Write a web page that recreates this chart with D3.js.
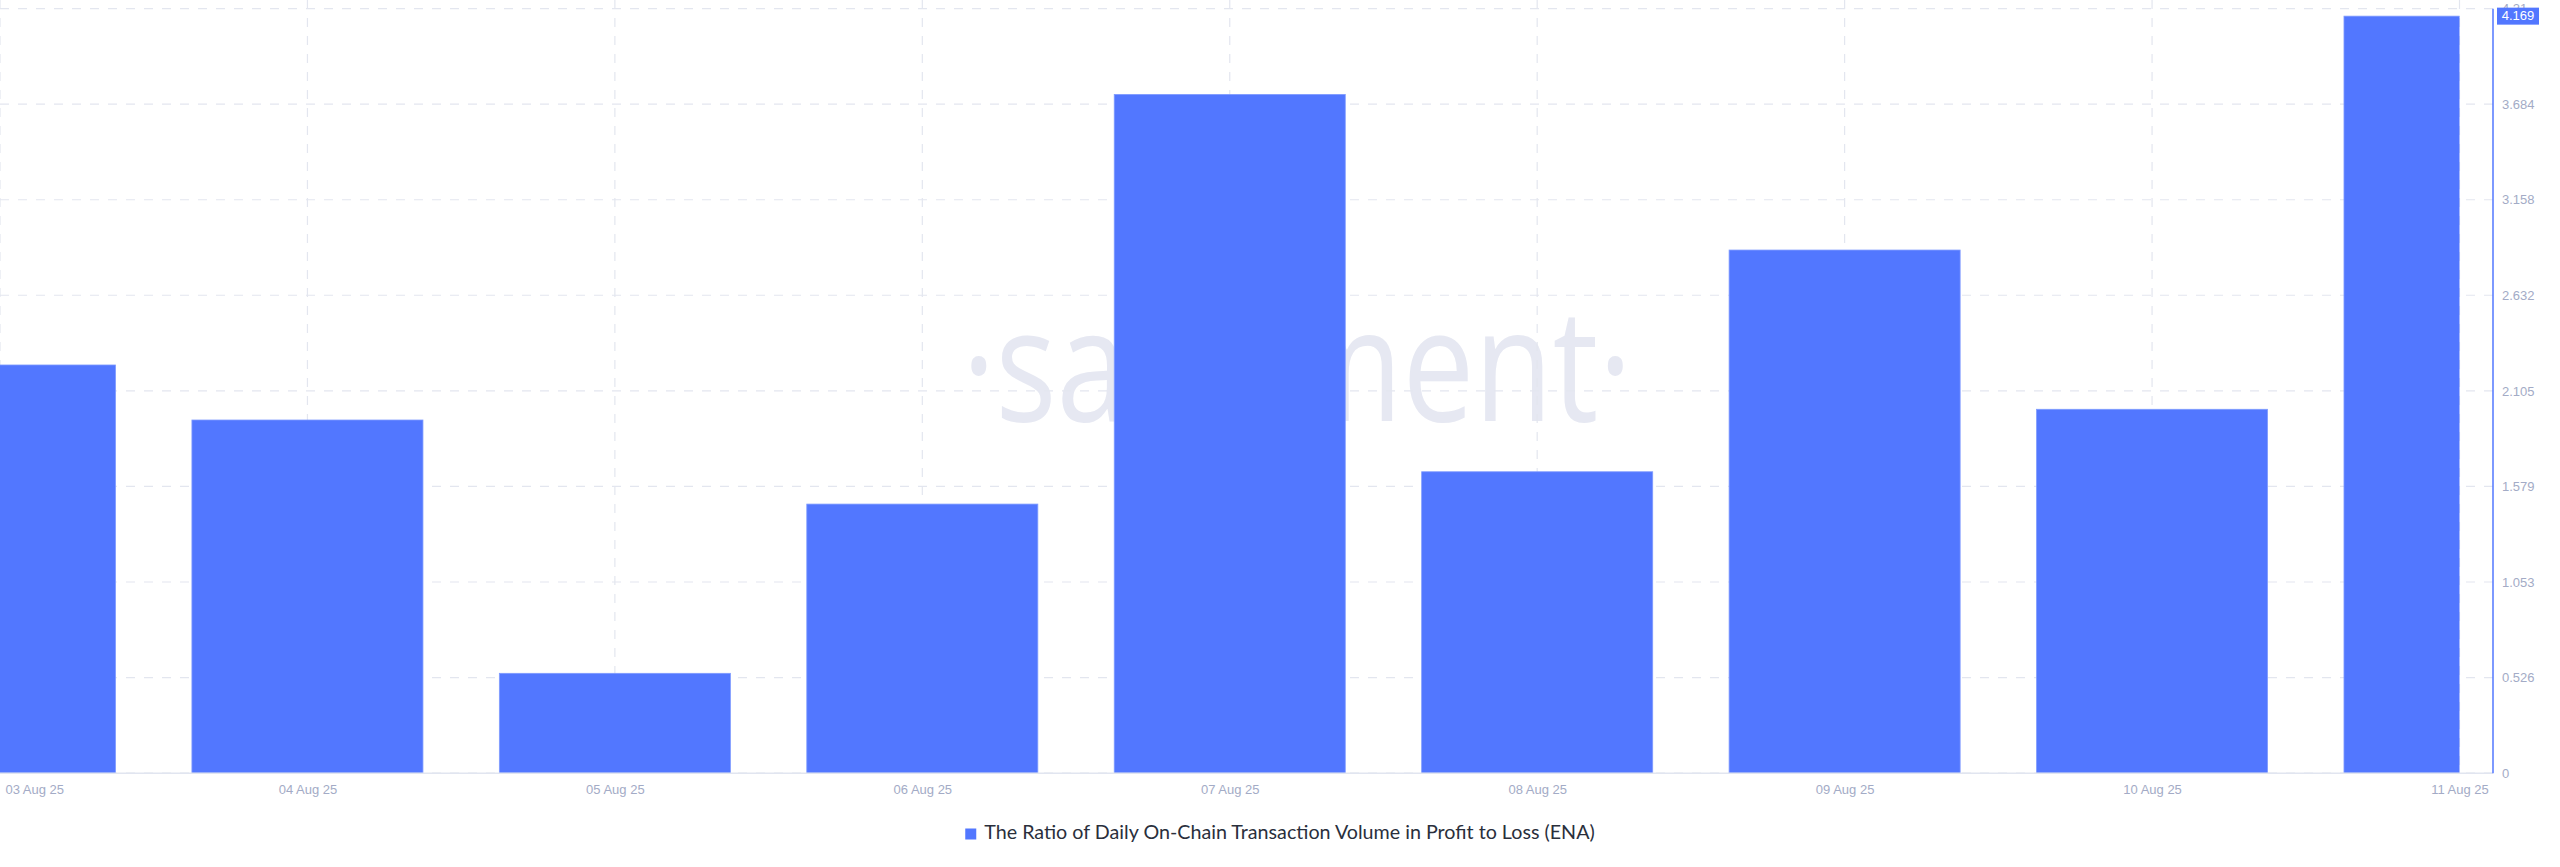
<!DOCTYPE html>
<html>
<head>
<meta charset="utf-8">
<script src="https://cdn.jsdelivr.net/npm/d3@7"></script>
<style>
  html, body { margin: 0; padding: 0; background: #ffffff; }
  svg { display: block; }
</style>
</head>
<body>
<svg id="chart" width="2560" height="867"></svg>
<script>
// ---- data ----
const dates = ["03 Aug 25", "04 Aug 25", "05 Aug 25", "06 Aug 25", "07 Aug 25", "08 Aug 25", "09 Aug 25", "10 Aug 25", "11 Aug 25"];
const ratios = [2.248, 1.945, 0.550, 1.482, 3.738, 1.660, 2.881, 2.004, 4.169];
const yTickValues = [0, 0.526, 1.053, 1.579, 2.105, 2.632, 3.158, 3.684, 4.21];
const yTickLabels = ["0", "0.526", "1.053", "1.579", "2.105", "2.632", "3.158", "3.684", "4.21"];
const seriesName = "The Ratio of Daily On-Chain Transaction Volume in Profit to Loss (ENA)";
const lastValueLabel = "4.169";

// ---- layout ----
const W = 2560, H = 867;
const plotLeft = 0, lastX = 2459.5, axisX = 2493;
const yBottom = 773.2, yTop = 8.7;
const barColor = "#5277ff";
const gridColor = "#e3e6ef";
const labelColor = "#a3abc6";

const svg = d3.select("#chart");

const x = d3.scalePoint().domain(dates).range([plotLeft, lastX]).padding(0);
const y = d3.scaleLinear().domain([0, 4.21]).range([yBottom, yTop]);
const step = x.step();
const barW = step * 0.7515;

// watermark
svg.append("text")
  .attr("x", 1297).attr("y", 421)
  .attr("text-anchor", "middle")
  .attr("font-family", "'Open Sans', sans-serif")
  .attr("font-weight", 400)
  .attr("font-size", 158)
  .attr("fill", "#e6e8f2")
  .attr("textLength", 670)
  .attr("lengthAdjust", "spacingAndGlyphs")
  .text("·santiment·");

// horizontal grid
svg.append("g").selectAll("line").data(yTickValues).join("line")
  .attr("x1", plotLeft).attr("x2", axisX)
  .attr("y1", d => y(d)).attr("y2", d => y(d))
  .attr("stroke", gridColor).attr("stroke-width", 1.2)
  .attr("stroke-dasharray", "9,9");

// vertical grid
svg.append("g").selectAll("line").data(dates).join("line")
  .attr("x1", d => x(d)).attr("x2", d => x(d))
  .attr("y1", 0).attr("y2", yBottom)
  .attr("stroke", gridColor).attr("stroke-width", 1.2)
  .attr("stroke-dasharray", "9,9");

// clip for bars
svg.append("clipPath").attr("id", "plotClip")
  .append("rect").attr("x", plotLeft).attr("y", 0)
  .attr("width", lastX - plotLeft).attr("height", yBottom);

// bars
svg.append("g").attr("clip-path", "url(#plotClip)")
  .selectAll("rect").data(dates).join("rect")
  .attr("x", d => x(d) - barW / 2)
  .attr("width", barW)
  .attr("y", (d, i) => y(ratios[i]))
  .attr("height", (d, i) => yBottom - y(ratios[i]))
  .attr("fill", barColor)
  .attr("stroke", "#7f9bff").attr("stroke-width", 0.8);

// bottom axis line
svg.append("line")
  .attr("x1", plotLeft).attr("x2", axisX)
  .attr("y1", yBottom).attr("y2", yBottom)
  .attr("stroke", "#e1e5f0").attr("stroke-width", 1.5);

// right axis
const yAxis = d3.axisRight(y)
  .tickValues(yTickValues)
  .tickFormat((d, i) => yTickLabels[i])
  .tickSize(0).tickPadding(9);
const gy = svg.append("g").attr("transform", `translate(${axisX},0)`).call(yAxis);
gy.select(".domain").remove();
gy.selectAll("text")
  .attr("fill", labelColor)
  .attr("font-family", "'Liberation Sans', Arial, sans-serif")
  .attr("font-size", 13);
svg.append("line")
  .attr("x1", axisX).attr("x2", axisX)
  .attr("y1", yTop).attr("y2", yBottom)
  .attr("stroke", barColor).attr("stroke-width", 1.5);

// bottom date labels via axis
const xAxis = d3.axisBottom(x).tickSize(0).tickPadding(12);
const gx = svg.append("g").attr("transform", `translate(0,${yBottom})`).call(xAxis);
gx.select(".domain").remove();
gx.selectAll("text")
  .attr("fill", labelColor)
  .attr("font-family", "'Liberation Sans', Arial, sans-serif")
  .attr("font-size", 13);
// clamp first/last labels inside the visible area
gx.selectAll(".tick").each(function(d) {
  const t = d3.select(this).select("text");
  const w = t.node().getComputedTextLength();
  const cx = x(d);
  const minC = 5 + w / 2, maxC = 2517 - w / 2;
  const c = Math.max(minC, Math.min(maxC, cx));
  t.attr("x", c - cx);
});

// last value badge (drawn over the top tick label, as in the original)
const lastV = ratios[ratios.length - 1];
const badge = svg.append("g").attr("transform", `translate(${axisX + 4},${y(lastV)})`);
badge.append("rect")
  .attr("x", 0).attr("y", -8.5).attr("width", 42).attr("height", 17)
  .attr("fill", barColor);
badge.append("text")
  .attr("x", 21).attr("y", 0.5)
  .attr("text-anchor", "middle").attr("dominant-baseline", "middle")
  .attr("fill", "#ffffff")
  .attr("font-family", "'Liberation Sans', Arial, sans-serif")
  .attr("font-size", 13)
  .text(lastValueLabel);

// legend
const legend = svg.append("g");
const lt = legend.append("text")
  .attr("y", 834)
  .attr("dominant-baseline", "middle")
  .attr("font-family", "Lato, 'Open Sans', sans-serif")
  .attr("font-size", 16)
  .attr("fill", "#2a2f3c")
  .text(seriesName);
let lw = lt.node().getComputedTextLength();
const fs = 16 * 611 / lw;
lt.attr("font-size", fs);
lw = lt.node().getComputedTextLength();
const totalW = 11 + 8 + lw;
const lx = 1280 - totalW / 2;
legend.append("rect")
  .attr("x", lx).attr("y", 828.5).attr("width", 11).attr("height", 11)
  .attr("fill", barColor);
lt.attr("x", lx + 19);
</script>
</body>
</html>
